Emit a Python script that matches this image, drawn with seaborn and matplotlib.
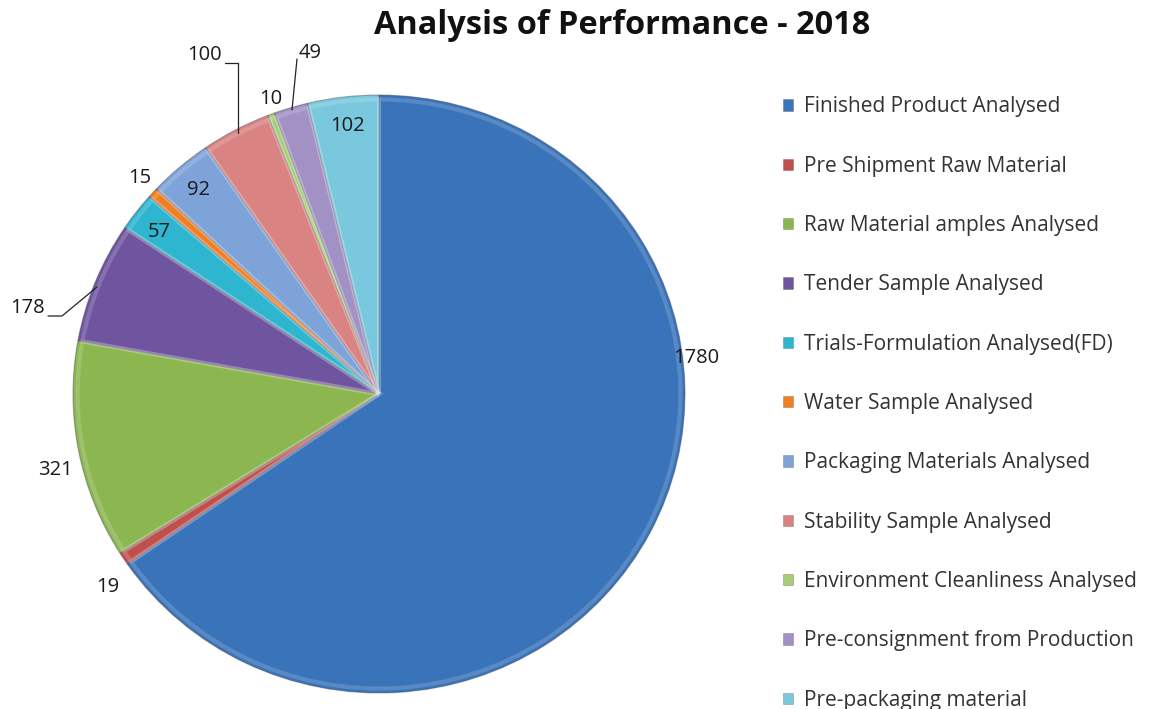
import matplotlib
matplotlib.use("Agg")
import matplotlib.pyplot as plt
from matplotlib.patches import Patch
import seaborn as sns

# Sample counts analysed during 2018
categories = [
    "Finished Product Analysed",
    "Pre Shipment Raw Material",
    "Raw Material amples Analysed",
    "Tender Sample Analysed",
    "Trials-Formulation Analysed(FD)",
    "Water Sample Analysed",
    "Packaging Materials Analysed",
    "Stability Sample Analysed",
    "Environment Cleanliness Analysed",
    "Pre-consignment from Production",
    "Pre-packaging material",
]
counts = [1780, 19, 321, 178, 57, 15, 92, 100, 10, 49, 102]

slice_colors = [
    "#3973B9", "#C0504D", "#8CB650", "#6F55A0", "#2EB5CF", "#F07E22",
    "#7EA3D8", "#D98383", "#A8CB78", "#A191C5", "#79C8DE",
]

# Where each value label sits (pixel position on the 1151x709 canvas)
label_px = [
    (696, 358), (108, 587), (55, 470), (27, 308), (159, 232), (140, 178),
    (198, 190), (204, 55), (271, 99), (310, 53), (347, 126),
]
# Leader lines for labels placed away from their wedges
leaders = {
    3: [(48, 316), (62, 316), (97, 287)],
    7: [(225, 63), (238, 63), (238, 133)],
    9: [(297, 59), (292, 110)],
}

sns.set_theme(style="white")
plt.rcParams["font.family"] = ["Open Sans", "DejaVu Sans"]

W, H = 1151, 709
fig = plt.figure(figsize=(W / 100, H / 100), dpi=100)
fig.patch.set_facecolor("white")

# Pie axes: center (379, 394), radii 306 x 299 px
cx, cy, rx, ry = 379, 394, 306, 299
ax = fig.add_axes([(cx - rx) / W, (H - (cy + ry)) / H, 2 * rx / W, 2 * ry / H])
wedges, _ = ax.pie(
    counts,
    colors=slice_colors,
    startangle=90,
    counterclock=False,
    radius=1.0,
    wedgeprops=dict(edgecolor=(0.25, 0.25, 0.3, 0.4), linewidth=0.8),
)
# soft bevel highlight along each slice rim
ax.pie(
    counts,
    colors=["none"] * len(counts),
    startangle=90,
    counterclock=False,
    radius=0.985,
    wedgeprops=dict(edgecolor=(1, 1, 1, 0.16), linewidth=3.0, fill=False),
)
ax.set_aspect("auto")
ax.set_xlim(-1, 1)
ax.set_ylim(-1, 1)
ax.axis("off")

def to_fig(p):
    return (p[0] / W, 1 - p[1] / H)

for val, p in zip(counts, label_px):
    fx, fy = to_fig(p)
    fig.text(fx, fy, f"{val}", ha="center", va="center",
             fontsize=14.5, color="#1a1a1a")

for pts in leaders.values():
    xs = [to_fig(q)[0] for q in pts]
    ys = [to_fig(q)[1] for q in pts]
    fig.add_artist(plt.Line2D(xs, ys, transform=fig.transFigure,
                              color="#222222", linewidth=0.9))

fig.text(622 / W, 1 - 25 / H, "Analysis of Performance - 2018",
         ha="center", va="center", fontsize=23.4, fontweight="bold",
         color="#111111")

handles = [Patch(facecolor=c, edgecolor=(0, 0, 0, 0.25), linewidth=0.5)
           for c in slice_colors]
fig.legend(handles, categories, loc="upper left",
           bbox_to_anchor=(775 / W, 1 - 88 / H),
           frameon=False, fontsize=15, labelcolor="#333333",
           handlelength=0.45, handleheight=0.45, handletextpad=0.55,
           labelspacing=1.84, borderaxespad=0)

fig.savefig("out.png", dpi=100, facecolor="white")
